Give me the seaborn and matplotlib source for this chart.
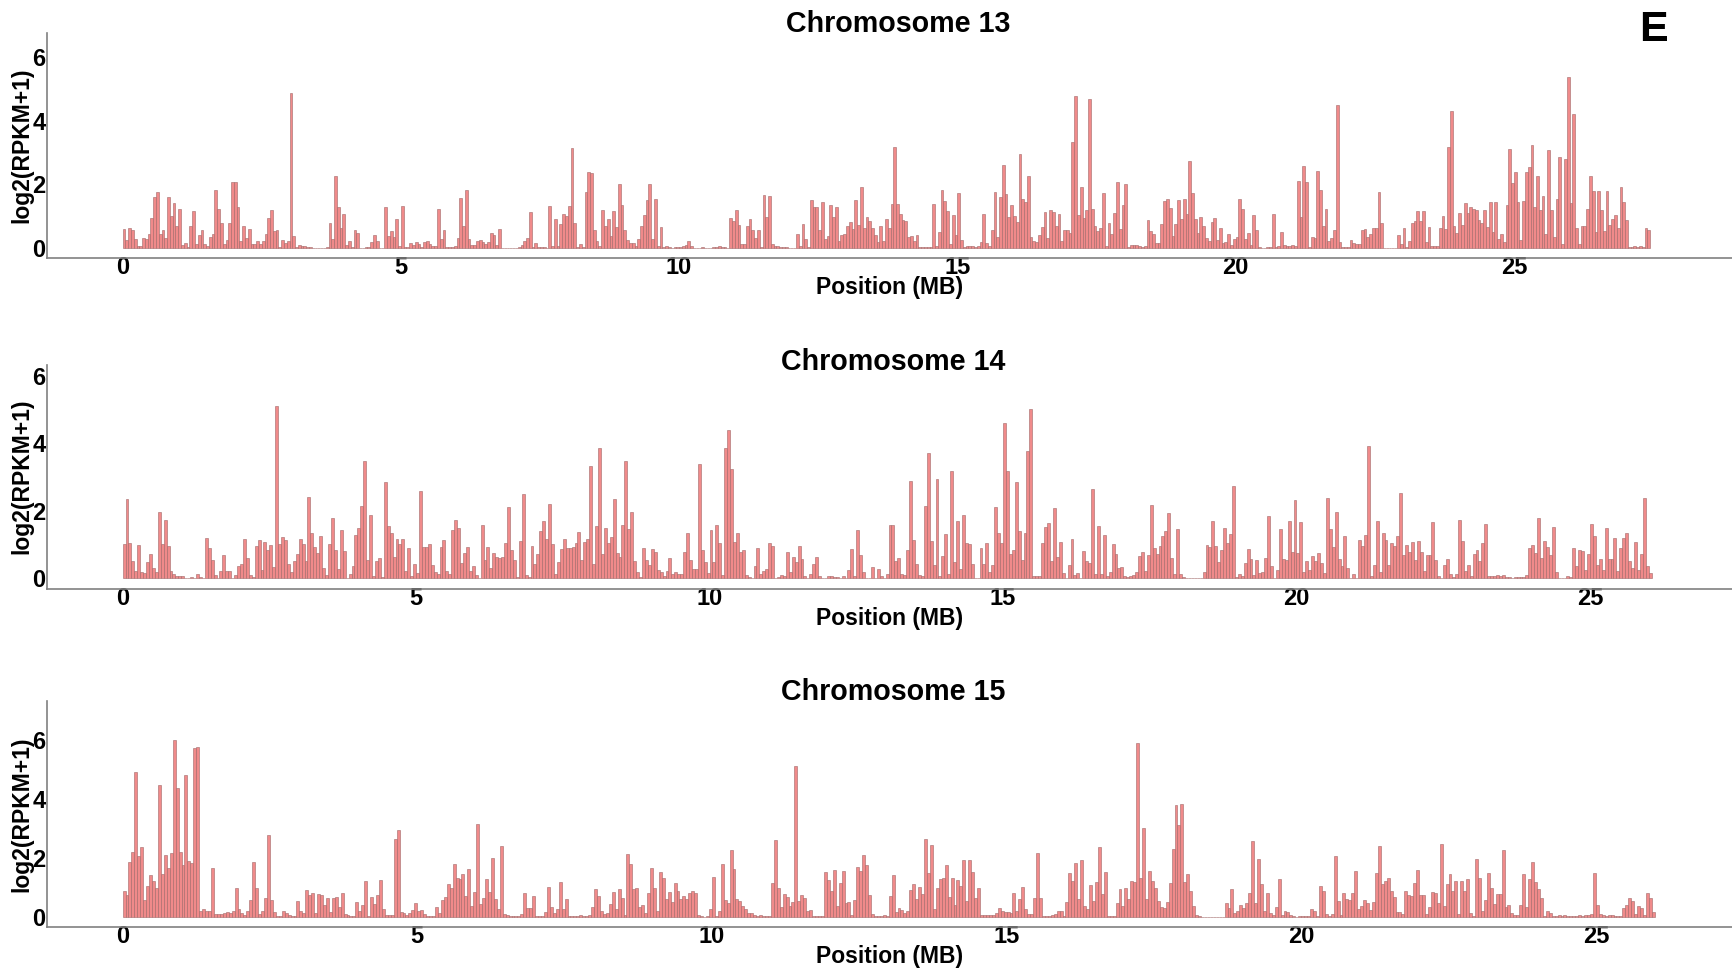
import numpy as np
import pandas as pd
import matplotlib
matplotlib.use("Agg")
import matplotlib.pyplot as plt
import seaborn as sns

# ---------------- data (log2(RPKM+1) per 50 kb bin) ----------------
BIN_MB = 0.05
chromosome_titles = ["Chromosome 13", "Chromosome 14", "Chromosome 15"]

chr13_log2_rpkm = [
    0.62,0.26,0.65,0.59,0.29,0.07,0.07,0.33,0.28,0.46,
    0.96,1.6,1.78,0.44,0.57,0.34,1.6,1.0,1.43,0.71,
    1.24,0.12,0.17,0.05,0.69,1.17,0.13,0.41,0.56,0.13,
    0.07,0.35,0.44,1.82,1.22,0.79,0.15,0.27,0.81,2.07,
    2.07,1.31,0.23,0.70,0.33,0.60,0.15,0.15,0.22,0.13,
    0.22,0.46,0.96,1.19,0.55,0.57,0.03,0.25,0.17,0.22,
    4.86,0.40,0.05,0.11,0.06,0.06,0.04,0.05,0.01,0.01,
    0.01,0.01,0.01,0.03,0.81,0.28,2.27,1.29,0.65,1.07,
    0.12,0.23,0.03,0.56,0.48,0.02,0.02,0.05,0.03,0.2,
    0.43,0.23,0.02,0.02,1.31,0.39,0.53,0.37,0.93,0.07,
    1.34,0.03,0.03,0.17,0.11,0.19,0.13,0.05,0.2,0.24,
    0.14,0.09,0.09,1.22,0.29,0.58,0.03,0.03,0.04,0.07,
    0.34,1.57,0.69,1.82,0.28,0.12,0.12,0.23,0.25,0.2,
    0.14,0.21,0.48,0.43,0.11,0.62,0.02,0.02,0.01,0.01,
    0.01,0.02,0.03,0.12,0.24,0.31,1.13,0.03,0.16,0.03,
    0.05,0.03,0.02,1.34,0.07,0.93,0.07,0.77,1.09,1.01,
    1.34,3.14,0.81,0.05,0.13,0.05,1.76,2.4,2.37,0.57,
    0.22,0.06,1.2,0.71,0.92,0.40,1.18,0.67,2.01,1.37,
    0.57,0.26,0.17,0.17,0.09,
    0.28,0.71,1.03,1.53,2.0,0.3,1.55,0.07,0.66,0.03,
    0.07,0.03,0.01,0.03,0.03,0.04,0.07,0.1,0.22,0.07,
    0.02,0.02,0.02,0.03,0.02,0.02,0.02,0.05,0.05,0.08,
    0.03,0.03,0.02,0.96,0.87,1.2,0.74,0.15,0.15,0.69,
    0.93,0.59,0.32,0.57,0.03,1.68,0.97,1.63,0.13,0.06,
    0.06,0.03,0.03,0.03,0.02,0.02,0.02,0.46,0.07,0.77,
    0.28,0.03,1.52,1.29,1.29,0.57,1.46,0.3,0.38,1.36,
    0.98,1.29,0.23,0.42,0.46,0.7,0.82,0.6,1.52,0.74,
    1.92,0.64,0.97,0.86,0.65,0.41,0.19,0.7,0.22,0.92,
    0.64,1.4,3.18,1.4,1.08,0.88,0.86,0.35,0.38,0.23,
    0.41,0.05,0.05,0.03,0.03,0.05,1.39,0.07,0.51,1.84,
    1.49,1.17,0.13,1.06,0.41,1.72,0.25,0.05,0.09,0.09,
    0.08,0.05,0.07,0.21,1.09,0.17,0.07,0.57,1.75,0.35,
    1.6,2.62,1.7,0.99,1.36,1.01,0.82,2.96,1.55,1.45,
    2.28,0.35,0.23,0.2,0.41,0.67,1.15,0.34,1.19,1.14,
    0.69,1.07,0.22,0.58,0.59,0.47,3.34,4.78,1.05,1.93,
    0.96,1.2,4.67,1.23,0.7,0.53,0.64,1.73,0.07,0.79,
    0.45,1.1,2.07,0.6,1.36,2.0,0.05,0.1,0.12,0.12,
    0.08,0.05,0.07,0.9,0.53,0.46,
    0.17,0.17,0.75,1.47,1.54,1.26,0.38,0.76,1.52,0.91,
    1.56,1.08,2.73,1.72,0.91,0.48,0.98,0.69,0.32,0.22,
    0.84,0.94,0.26,0.63,0.17,0.2,0.46,0.11,0.28,0.37,
    1.56,1.23,0.28,0.48,0.11,1.05,0.57,0.03,0.02,0.02,
    0.03,0.03,1.09,0.04,0.06,0.5,0.1,0.07,0.08,0.1,
    0.07,2.1,0.97,2.57,2.08,0.03,0.35,0.32,2.42,1.83,
    0.69,1.24,0.23,0.32,0.57,4.5,0.2,0.05,0.04,0.04,
    0.27,0.17,0.13,0.13,0.59,0.61,0.36,0.46,0.63,0.65,
    1.75,0.8,0.02,0.02,0.01,0.01,0.01,0.43,0.15,0.64,
    0.05,0.24,0.8,0.87,1.18,0.86,1.18,0.19,0.67,0.06,
    0.06,0.08,0.65,1.0,0.6,3.18,4.31,0.71,0.48,1.11,
    0.73,1.41,1.1,1.29,1.22,1.2,0.9,0.79,1.21,0.67,
    1.44,0.52,1.44,0.3,0.44,0.2,1.36,3.11,2.05,2.4,
    1.46,0.26,1.48,2.39,2.55,3.23,1.29,2.25,1.19,1.64,
    0.44,3.08,1.21,0.35,1.56,2.85,0.13,2.81,5.37,1.43,
    4.22,0.64,0.13,0.7,0.7,1.23,2.28,1.8,0.52,1.79,
    1.21,0.53,1.81,0.72,0.92,1.06,0.64,1.92,1.46,0.88,
    0.05,0.05,0.08,0.05,0.08,0.03,0.65,0.56,
]

chr14_log2_rpkm = [
    1.02,2.35,1.04,0.51,0.22,0.98,0.19,0.17,0.48,0.71,
    0.31,0.19,1.98,1.02,1.72,0.95,0.21,0.12,0.07,0.07,
    0.07,0.02,0.02,0.03,0.02,0.12,0.05,0.02,1.21,0.89,
    0.53,0.09,0.02,0.22,0.7,0.22,0.22,0.02,0.09,0.36,
    0.42,1.16,0.61,0.1,0.04,0.97,1.14,0.25,1.08,0.85,
    1.0,0.34,5.11,1.02,1.22,1.15,0.42,0.2,0.51,0.72,
    1.17,1.02,0.51,2.42,1.35,0.93,0.76,1.25,0.31,0.1,
    1.02,1.8,0.84,0.28,1.44,0.81,0.02,0.14,0.36,1.28,
    1.5,2.15,3.47,0.53,1.88,0.07,0.5,0.61,0.04,2.86,
    1.54,1.34,0.64,1.17,1.01,1.17,0.22,0.9,0.06,0.43,
    0.17,2.59,0.93,0.94,1.01,0.4,0.2,0.13,0.93,1.14,
    0.23,0.13,1.42,1.72,1.48,0.45,0.76,0.94,0.22,0.37,
    0.09,0.02,1.58,0.53,0.93,0.31,0.75,0.63,0.61,0.63,
    1.04,2.13,0.84,0.55,0.04,1.1,2.49,0.11,0.04,0.96,
    0.42,0.72,1.39,1.69,1.16,2.21,1.03,0.12,0.47,0.86,
    1.17,0.91,0.91,0.94,1.04,1.38,0.55,1.09,1.18,3.32,
    0.42,1.54,3.85,0.71,1.5,1.06,1.23,2.34,0.74,0.62,
    1.58,3.47,1.45,1.96,0.5,
    0.18,0.04,0.91,0.53,0.4,0.87,0.77,0.24,0.18,0.08,
    0.21,0.6,0.13,0.2,0.14,0.12,0.79,1.34,0.54,0.29,
    0.28,3.39,0.83,0.48,0.15,1.42,0.49,1.57,1.05,0.1,
    3.87,4.41,3.24,1.07,1.35,0.78,0.85,0.09,0.04,0.02,
    0.36,0.91,0.13,0.21,0.28,1.04,0.97,0.02,0.04,0.09,
    0.07,0.79,0.2,0.63,0.48,0.96,0.56,0.08,0.02,0.12,
    0.44,0.64,0.08,0.02,0.02,0.07,0.08,0.04,0.05,0.02,
    0.06,0.02,0.25,0.87,0.07,1.44,0.69,0.2,0.02,0.02,
    0.33,0.02,0.28,0.07,0.02,0.14,1.57,1.57,0.51,0.61,
    0.13,0.09,0.83,2.89,1.15,0.42,0.09,0.06,2.14,3.73,
    1.12,0.4,2.94,0.07,0.66,1.31,0.13,3.19,0.49,1.7,
    0.28,1.87,1.05,1.01,0.43,0.02,0.02,0.91,0.42,1.04,
    0.18,0.4,2.12,1.34,1.04,4.6,3.17,0.73,0.84,2.85,
    1.41,0.54,1.34,3.78,5.02,0.07,0.07,0.07,1.06,1.52,
    1.63,0.5,2.08,0.64,1.07,0.15,0.02,0.4,1.17,0.1,
    0.15,0.02,0.82,0.5,0.45,2.65,0.14,1.55,0.14,1.29,
    0.07,0.2,1.02,0.73,0.32,0.33,0.06,0.04,0.06,0.1,
    0.2,0.67,0.77,0.22,0.68,2.16,0.89,
    0.72,0.96,1.27,1.41,1.93,0.61,0.13,1.46,0.13,0.04,
    0.02,0.02,0.02,0.02,0.02,0.02,0.19,0.98,0.94,1.7,
    0.96,0.49,0.84,1.48,1.04,1.31,2.74,0.03,0.12,0.07,
    0.45,0.86,0.56,0.1,0.54,0.15,0.2,0.61,1.84,0.38,
    0.02,0.24,1.45,0.57,0.54,1.71,0.78,2.33,0.74,1.68,
    0.18,0.52,0.25,0.66,0.5,0.74,0.46,0.15,2.37,1.45,
    0.94,1.96,0.57,0.37,1.25,0.3,0.02,0.12,0.02,1.15,
    0.97,1.28,3.93,0.07,0.4,1.7,0.18,1.34,1.14,0.41,
    1.04,0.96,1.26,2.54,0.7,0.98,0.78,1.08,0.53,1.11,
    0.78,0.21,0.69,0.69,1.68,0.54,0.07,0.02,0.39,0.57,
    0.14,0.04,0.13,1.73,1.11,0.22,0.39,0.06,0.72,0.84,
    0.52,1.05,1.62,0.08,0.08,0.07,0.11,0.06,0.09,0.04,
    0.03,0.02,0.03,0.03,0.03,0.03,0.09,0.89,0.98,0.76,
    1.8,0.61,1.11,0.94,0.69,1.53,0.19,0.02,0.02,0.02,
    0.06,0.05,0.91,0.37,0.84,0.81,0.25,0.72,1.62,1.25,
    0.4,0.56,0.25,1.49,0.58,0.58,1.21,0.22,0.9,1.2,
    1.34,0.5,0.31,1.07,0.26,0.73,2.38,0.36,0.15,
]

chr15_log2_rpkm = [
    0.88,0.72,1.84,2.18,4.9,2.06,2.36,0.57,1.05,1.4,
    1.2,0.98,4.46,1.45,2.08,1.64,2.16,6.0,4.38,2.21,
    1.74,4.82,1.88,1.82,5.71,5.77,0.2,0.27,0.19,0.19,
    1.64,0.08,0.09,0.1,0.11,0.17,0.14,0.2,0.98,0.25,
    0.11,0.07,0.2,0.55,1.86,0.98,0.08,0.19,0.62,2.76,
    0.57,0.16,0.03,0.03,0.2,0.14,0.07,0.02,0.02,0.52,
    0.19,0.11,0.9,0.74,0.8,0.12,0.76,0.75,0.4,0.64,
    0.17,0.64,0.68,0.34,0.8,0.08,0.07,0.02,0.02,0.5,
    0.19,0.38,1.22,0.03,0.68,0.43,0.74,1.24,0.27,0.07,
    0.06,0.07,2.62,2.94,
    0.15,0.11,0.07,0.11,0.23,0.46,0.18,0.23,0.1,0.02,
    0.02,0.02,0.32,0.14,0.57,0.68,1.12,0.98,1.79,1.31,
    1.28,1.45,0.69,1.62,0.37,0.84,3.14,0.44,0.62,1.27,
    0.85,1.98,0.59,0.27,2.39,0.08,0.06,0.02,0.01,0.01,
    0.02,0.08,0.79,0.29,0.28,0.69,0.01,0.01,0.01,0.15,
    1.02,0.34,0.11,0.26,1.19,0.26,0.59,0.01,0.01,0.01,
    0.01,0.06,0.01,0.01,0.06,0.34,0.94,0.7,0.2,0.1,
    0.14,0.42,0.85,0.26,0.94,0.63,0.06,2.12,1.79,0.94,
    0.98,0.32,0.41,0.14,0.8,1.66,0.96,0.19,1.5,1.32,
    0.6,0.85,0.5,1.15,0.86,0.6,0.69,0.61,0.79,0.86,
    0.81,0.07,0.02,0.0,0.02,0.27,1.35,0.02,0.2,1.79,
    0.57,0.48,2.25,1.63,0.61,0.52,0.35,0.26,0.14,0.11,
    0.06,0.03,0.05,0.02,0.01,0.01,1.14,2.6,0.97,0.32,
    0.77,0.67,0.37,0.5,5.1,0.53,0.72,0.64,0.2,0.23,
    0.02,0.01,0.01,0.02,1.52,1.24,0.87,1.6,0.37,1.14,
    1.56,0.48,0.5,0.05,0.58,1.67,1.56,2.09,1.74,0.72,
    0.08,0.02,0.01,0.01,0.07,0.02,0.69,1.4,0.16,0.29,
    0.23,0.11,0.19,0.9,1.1,0.59,1.02,0.77,2.65,1.48,
    2.42,0.25,0.96,1.28,1.3,1.76,0.67,1.32,0.4,1.23,
    1.04,1.91,0.53,1.91,1.5,0.62,0.96,0.06,0.07,0.06,
    0.05,0.05,0.14,0.28,0.18,0.17,0.17,0.11,0.81,0.2,
    0.6,1.01,0.26,0.09,0.08,0.64,2.17,
    0.63,0.02,0.02,0.03,0.06,0.1,0.18,0.21,0.02,0.5,
    1.49,1.22,1.82,0.59,1.93,0.37,0.26,1.07,0.52,1.19,
    2.36,0.77,1.5,0.03,0.02,0.02,0.48,0.95,0.37,0.98,
    0.61,1.21,1.18,5.88,1.33,3.0,0.59,1.55,1.21,0.98,
    0.53,0.33,0.29,0.5,1.15,2.29,3.79,3.12,3.82,1.19,
    1.45,0.87,0.35,0.06,0.01,0.0,0.0,0.0,0.0,0.0,
    0.0,0.0,0.0,0.45,0.31,0.95,0.14,0.21,0.4,0.28,
    0.48,0.81,2.56,0.48,1.96,1.11,0.18,0.81,0.11,0.05,
    0.32,1.27,0.05,0.2,0.17,0.06,0.02,0.0,0.01,0.01,
    0.01,0.02,0.25,0.2,0.02,1.05,0.87,0.1,0.03,0.1,
    2.05,0.54,0.06,0.79,0.61,0.57,0.8,1.56,0.26,0.36,
    0.57,0.48,0.23,0.5,1.48,2.39,1.12,1.22,1.32,0.86,
    0.66,0.17,0.16,0.1,0.86,0.75,0.69,1.14,1.58,0.75,
    0.75,0.08,0.32,0.84,0.8,0.46,2.47,0.36,1.11,1.44,
    0.87,1.2,0.08,1.2,0.88,1.27,0.11,0.02,1.96,1.32,
    0.19,0.57,1.47,0.98,0.44,0.78,0.78,2.25,0.34,0.4,
    0.14,0.06,0.06,0.38,1.44,0.34,1.28,1.84,1.18,0.95,
    0.62,0.02,0.2,0.11,0.02,0.02,0.06,0.02,0.06,0.02,
    0.02,0.03,0.02,0.06,0.02,0.06,0.06,0.08,1.47,0.4,
    0.08,0.06,0.02,0.06,0.06,0.02,0.02,0.02,0.31,0.38,
    0.63,0.54,0.08,0.35,0.28,0.07,0.81,0.64,0.15,
]

x_ticks = [0, 5, 10, 15, 20, 25]
y_ticks = [0, 2, 4, 6]
x_label = "Position (MB)"
y_label = "log2(RPKM+1)"
panel_letter = "E"

# ---------------- style / layout ----------------
FILL = "#F08A8A"
EDGE = "#A06868"
AXIS_COLOR = "#808080"

sns.set_theme(style="white")
plt.rcParams["font.family"] = ["Liberation Sans", "DejaVu Sans"]
plt.rcParams["font.weight"] = "bold"
plt.rcParams["axes.titleweight"] = "bold"
plt.rcParams["axes.labelweight"] = "bold"

W, H = 1732, 968
fig = plt.figure(figsize=(W / 100, H / 100), dpi=100)

# (top_px, bottom_px, xlim, ylim, title_baseline_px, title_x)
panels = [
    (32.7, 258.3, (-1.364, 28.92), (-0.31, 6.75), 32.0, 0.5055),
    (364.5, 588.8, (-1.293, 27.42), (-0.31, 6.34), 370.0, 0.502),
    (700.7, 927.3, (-1.288, 27.31), (-0.36, 7.33), 700.4, 0.502),
]
left_px = 46.7

series = [chr13_log2_rpkm, chr14_log2_rpkm, chr15_log2_rpkm]

for (top, bot, xl, yl, tb, tx), vals, title in zip(panels, series, chromosome_titles):
    ax = fig.add_axes([left_px / W, 1 - bot / H, 1 - left_px / W, (bot - top) / H])
    df = pd.DataFrame({
        "pos": (np.arange(len(vals)) + 0.5) * BIN_MB,
        "val": vals,
    })
    sns.barplot(data=df, x="pos", y="val", native_scale=True, orient="x",
                width=1.0, color=FILL, saturation=1, errorbar=None,
                edgecolor=EDGE, linewidth=0.4, ax=ax)
    ax.set_xlim(*xl)
    ax.set_ylim(*yl)
    ax.set_xticks(x_ticks)
    ax.set_xticklabels([str(t) for t in x_ticks])
    ax.set_yticks(y_ticks)
    ax.set_yticklabels([str(t) for t in y_ticks])
    ax.tick_params(axis="both", length=0, labelsize=17, colors="black")
    ax.tick_params(axis="x", pad=-1.5)
    ax.tick_params(axis="y", pad=1)
    for s in ["top", "right"]:
        ax.spines[s].set_visible(False)
    for s in ["left", "bottom"]:
        ax.spines[s].set_color(AXIS_COLOR)
        ax.spines[s].set_linewidth(1.2)
    ax.set_xlabel(x_label, fontsize=16.5, labelpad=-2, color="black")
    ax.set_ylabel(y_label, fontsize=16.5, color="black")
    ax.yaxis.set_label_coords(-0.0081, 0.5)
    h = bot - top
    ax.set_title(title, fontsize=20.6, color="black", pad=0, x=tx, y=(bot - tb) / h)
    ax.grid(False)

fig.text(0.9547, 0.9685, panel_letter, fontsize=31, fontweight="bold",
         ha="center", va="center", color="black")

fig.savefig("out.png", dpi=100)
